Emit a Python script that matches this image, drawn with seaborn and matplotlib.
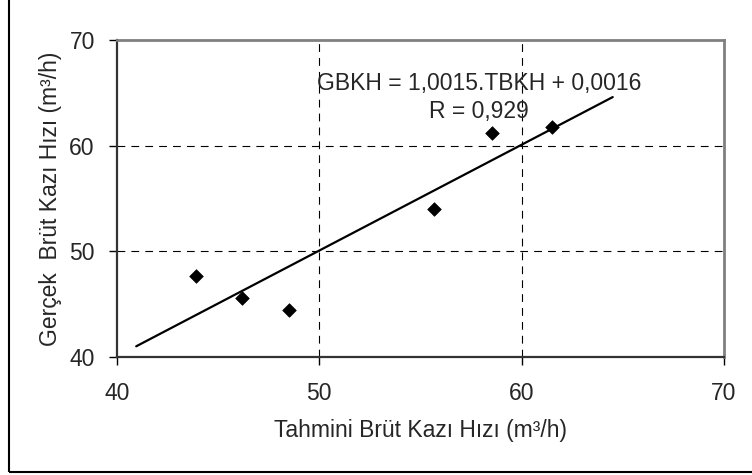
import matplotlib
matplotlib.use("Agg")
import matplotlib.pyplot as plt
import seaborn as sns
import numpy as np
import pandas as pd
from matplotlib.patches import Rectangle

# Data
tahmini = [43.9, 46.2, 48.5, 55.65, 58.55, 61.5]
gercek = [47.7, 45.6, 44.45, 54.0, 61.2, 61.8]
slope = 1.0015
intercept = 0.0016
fit_x = [40.95, 64.5]
ticks = [40, 50, 60, 70]
equation_line = "GBKH = 1,0015.TBKH + 0,0016"
r_line = "R = 0,929"
xlabel = "Tahmini Brüt Kazı Hızı (m³/h)"
ylabel = "Gerçek  Brüt Kazı Hızı (m³/h)"

FS = 16.5

sns.set_style("white")
plt.rcParams['font.family'] = ['Liberation Sans', 'DejaVu Sans']
plt.rcParams['font.size'] = FS

fig = plt.figure(figsize=(7.52, 4.75), dpi=100)
ax = fig.add_axes([117/752, 1 - 357/475, (724-117)/752, (357-40)/475])

df = pd.DataFrame({"x": tahmini, "y": gercek})
fit_df = pd.DataFrame({"x": fit_x, "y": [slope * v + intercept for v in fit_x]})

# grid
for v in [50, 60]:
    ax.axvline(v, color="black", lw=0.8, linestyle=(0, (7, 5.5)), zorder=1)
    ax.axhline(v, color="black", lw=0.8, linestyle=(0, (7, 5.5)), zorder=1)

sns.lineplot(data=fit_df, x="x", y="y", ax=ax, color="black", lw=1.6, zorder=3)
sns.scatterplot(data=df, x="x", y="y", ax=ax, marker="D", color="black",
                s=48, edgecolor="black", linewidth=0.5, zorder=4)

ax.set_xlim(40, 70)
ax.set_ylim(40, 70)
ax.set_xticks(ticks)
ax.set_yticks(ticks)
ax.set_xticklabels([str(t) for t in ticks], fontsize=FS)
ax.set_yticklabels([str(t) for t in ticks], fontsize=FS)
ax.tick_params(axis="both", direction="out", length=6, width=1, color="black",
               bottom=True, left=True)
ax.tick_params(axis="y", pad=10)
ax.tick_params(axis="x", pad=12)

for side in ["left", "bottom"]:
    ax.spines[side].set_color("#333333")
    ax.spines[side].set_linewidth(1.6)
for side in ["top", "right"]:
    ax.spines[side].set_color("#808080")
    ax.spines[side].set_linewidth(2.0)

ax.set_xlabel(xlabel, fontsize=FS, labelpad=10)
ax.set_ylabel(ylabel, fontsize=FS, labelpad=5)

ax.text(57.9, 65.9, equation_line, ha="center", va="center", fontsize=FS, zorder=5)
ax.text(57.9, 63.2, r_line, ha="center", va="center", fontsize=FS, zorder=5)

# outer border of the chart area
fig.patches.append(Rectangle((9/752, 3/475), 1.2, 1.2, transform=fig.transFigure,
                             fill=False, edgecolor="black", lw=1.5, clip_on=False))

fig.savefig("out.png", dpi=100)
